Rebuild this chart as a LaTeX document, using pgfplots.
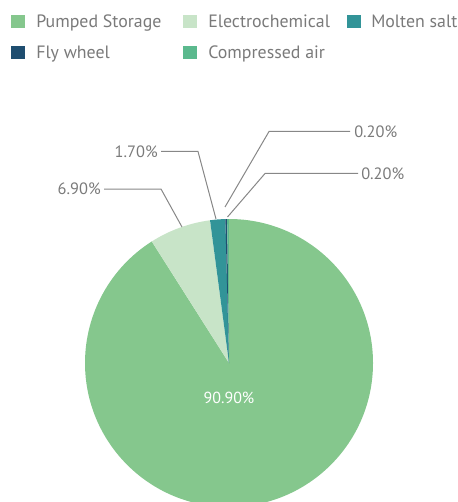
\documentclass[border=0pt]{standalone}
\usepackage{pgfplots}
\pgfplotsset{compat=1.18}
\usepackage{fontspec}
\setmainfont{PT Sans}
\definecolor{cPumped}{RGB}{133,199,141}
\definecolor{cElectro}{RGB}{200,228,200}
\definecolor{cMolten}{RGB}{50,148,152}
\definecolor{cFly}{RGB}{31,78,112}
\definecolor{cComp}{RGB}{91,185,142}
\definecolor{txt}{RGB}{122,122,122}
\definecolor{ln}{RGB}{135,135,135}
% data (percent)
\def\vA{90.9}\def\vB{6.9}\def\vC{1.7}\def\vD{0.2}\def\vE{0.2}
\pgfmathsetmacro\tot{\vA+\vB+\vC+\vD+\vE}
\pgfmathsetmacro\aA{90}
\pgfmathsetmacro\aB{\aA-\vA/\tot*360}
\pgfmathsetmacro\aC{\aB-\vB/\tot*360}
\pgfmathsetmacro\aD{\aC-\vC/\tot*360}
\pgfmathsetmacro\aE{\aD-\vD/\tot*360}
\pgfmathsetmacro\aF{\aE-\vE/\tot*360}
\def\R{108pt}
\begin{document}
\begin{tikzpicture}
\begin{axis}[
  scale only axis, width=342.75pt, height=376.5pt,
  xmin=0, xmax=457, ymin=0, ymax=502, y dir=reverse,
  axis lines=none, ticks=none, clip=true,
]
\addplot[draw=none] coordinates {(0,0) (457,502)};
% pie
\fill[cPumped] (axis cs:229,363) -- ++(\aA:\R) arc[start angle=\aA, end angle=\aB, radius=\R] -- cycle;
\fill[cElectro] (axis cs:229,363) -- ++(\aB:\R) arc[start angle=\aB, end angle=\aC, radius=\R] -- cycle;
\fill[cMolten] (axis cs:229,363) -- ++(\aC:\R) arc[start angle=\aC, end angle=\aD, radius=\R] -- cycle;
\fill[cFly] (axis cs:229,363) -- ++(\aD:\R) arc[start angle=\aD, end angle=\aE, radius=\R] -- cycle;
\fill[cComp] (axis cs:229,363) -- ++(\aE:\R) arc[start angle=\aE, end angle=\aF, radius=\R] -- cycle;
% center label
\node[text=white, font=\fontsize{12pt}{14pt}\selectfont] at (axis cs:229,398) {90.90\%};
% leader lines
\draw[ln, line width=0.75pt] (axis cs:182,227) -- (axis cs:161,189) -- (axis cs:104,189);
\draw[ln, line width=0.75pt] (axis cs:216,219) -- (axis cs:198,151.5) -- (axis cs:161,151.5);
\draw[ln, line width=0.75pt] (axis cs:225,207) -- (axis cs:269,131.5) -- (axis cs:350,131.5);
\draw[ln, line width=0.75pt] (axis cs:227.5,217) -- (axis cs:265,173.5) -- (axis cs:358,173.5);
\begin{scope}[every node/.style={text=txt, font=\fontsize{12.3pt}{14pt}\selectfont, inner sep=0pt}]
\node[anchor=east] at (axis cs:101,189) {6.90\%};
\node[anchor=east] at (axis cs:158,151.5) {1.70\%};
\node[anchor=west] at (axis cs:354,131.5) {0.20\%};
\node[anchor=west] at (axis cs:361,173.5) {0.20\%};
\end{scope}
% legend
\fill[cPumped] (axis cs:11,15) rectangle (axis cs:25,28);
\fill[cElectro] (axis cs:183,15) rectangle (axis cs:197,28);
\fill[cMolten] (axis cs:347,15) rectangle (axis cs:361,28);
\fill[cFly] (axis cs:11,46) rectangle (axis cs:25,59);
\fill[cComp] (axis cs:183,46) rectangle (axis cs:197,59);
\begin{scope}[every node/.style={text=txt, font=\fontsize{13.4pt}{15pt}\selectfont, inner sep=0pt, anchor=base west}]
\node at (axis cs:36,27.5) {Pumped Storage};
\node at (axis cs:208,27.5) {Electrochemical};
\node at (axis cs:371,27.5) {Molten salt};
\node at (axis cs:36,58.5) {Fly wheel};
\node at (axis cs:208,58.5) {Compressed air};
\end{scope}
\end{axis}
\end{tikzpicture}
\end{document}
